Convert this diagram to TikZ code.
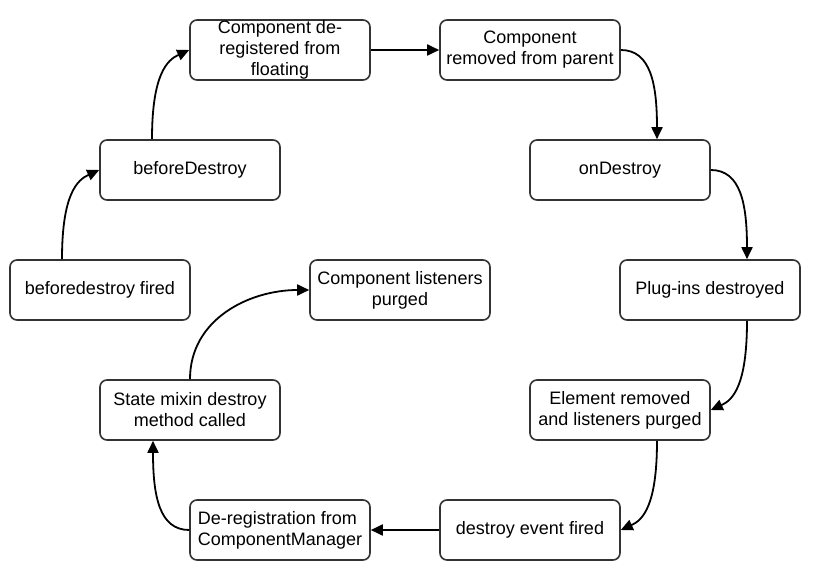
\documentclass[tikz,border=0pt]{standalone}
\usepackage{fontspec}
\setmainfont{Liberation Sans}
\usetikzlibrary{arrows.meta}
\tikzset{
  box/.style={draw=black!80, line width=1.6pt, rounded corners=7pt, fill=white,
    minimum width=180pt, minimum height=60pt, inner sep=0pt, align=center,
    font=\fontsize{18}{21}\selectfont},
  link/.style={line width=1.8pt, -{Triangle[length=12pt,width=11pt]}}
}
\begin{document}
\begin{tikzpicture}[x=1pt,y=-1pt]
\fill[white] (0,0) rectangle (820,580);
\useasboundingbox (0,0) rectangle (820,580);
\node[box] (A) at (280,50) {Component de-\\registered from\\floating};
\node[box] (B) at (530,50) {Component\\removed from parent};
\node[box] (C) at (620,170) {onDestroy};
\node[box] (D) at (710,290) {Plug-ins destroyed};
\node[box] (E) at (620,410) {Element removed\\and listeners purged};
\node[box] (F) at (530,530) {destroy event fired};
\node[box, align=left] (G) at (280,530) {De-registration from\\ComponentManager};
\node[box] (H) at (190,410) {State mixin destroy\\method called};
\node[box] (I) at (400,290) {Component listeners\\purged};
\node[box] (J) at (100,290) {beforedestroy fired};
\node[box] (K) at (190,170) {beforeDestroy};

\draw[link] ([xshift=-38pt]J.north) .. controls +(0,-65) and +(-22,10) .. (K.west);
\draw[link] ([xshift=-38pt]K.north) .. controls +(0,-65) and +(-22,10) .. (A.west);
\draw[link] (A.east) -- (B.west);
\draw[link] (B.east) .. controls +(30,0) and +(0,-55) .. ([xshift=37pt]C.north);
\draw[link] (C.east) .. controls +(30,0) and +(0,-55) .. ([xshift=37pt]D.north);
\draw[link] ([xshift=37pt]D.south) .. controls +(0,65) and +(22,-10) .. (E.east);
\draw[link] ([xshift=37pt]E.south) .. controls +(0,65) and +(22,-10) .. (F.east);
\draw[link] (F.west) -- (G.east);
\draw[link] (G.west) .. controls +(-30,0) and +(0,55) .. ([xshift=-37pt]H.south);
\draw[link] (H.north) .. controls +(0,-60) and +(-60,0) .. (I.west);
\end{tikzpicture}
\end{document}
